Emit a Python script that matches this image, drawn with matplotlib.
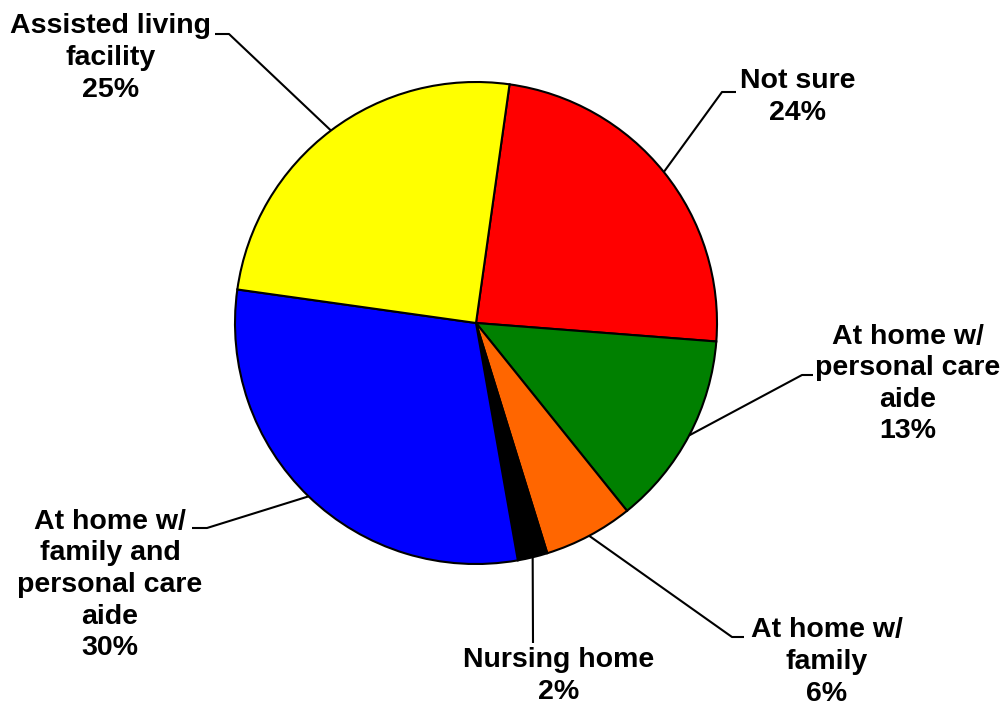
import numpy as np
import matplotlib
matplotlib.use("Agg")
import matplotlib.pyplot as plt

categories = ["Not sure", "At home w/\npersonal care\naide", "At home w/\nfamily",
              "Nursing home", "At home w/\nfamily and\npersonal care\naide",
              "Assisted living\nfacility"]
values = [24, 13, 6, 2, 30, 25]
colors = ["#FF0000", "#008000", "#FF6600", "#000000", "#0000FF", "#FFFF00"]

W, H = 1006, 707
fig = plt.figure(figsize=(W / 100, H / 100), dpi=100)
ax = fig.add_axes([0, 0, 1, 1])

def py(y):
    return H - y

cx, cy, R = 476, py(323), 241
wedges, _ = ax.pie(values, colors=colors, startangle=82, counterclock=False,
                   center=(cx, cy), radius=R, frame=True,
                   wedgeprops=dict(edgecolor="black", linewidth=1.5))
ax.set_xlim(0, W)
ax.set_ylim(0, H)
ax.set_aspect("equal")
ax.axis("off")

# label layout: (elbow point, horizontal end, text centre) in pixel coords
layout = [
    ((722, 92), (736, 92), (798, 97)),
    ((802, 375), (813, 375), (908, 384)),
    ((732, 637), (744, 637), (827, 662)),
    ((533, 643), None, (559, 676)),
    ((207, 528), (192, 528), (110, 585)),
    ((229, 34), (215, 34), (111, 58)),
]

for w, cat, v, (elb, hend, tpos) in zip(wedges, categories, values, layout):
    mid = np.deg2rad((w.theta1 + w.theta2) / 2)
    ax_ = cx + R * np.cos(mid)
    ay_ = cy + R * np.sin(mid)
    xs = [ax_, elb[0]]
    ys = [ay_, py(elb[1])]
    if hend is not None:
        xs.append(hend[0])
        ys.append(py(hend[1]))
    ax.plot(xs, ys, color="black", lw=1.5, solid_capstyle="butt")
    ax.text(tpos[0], py(tpos[1]), f"{cat}\n{v}%", ha="center", va="center",
            fontsize=20.5, fontweight="bold", family="Liberation Sans",
            linespacing=1.28)

fig.savefig("out.png", dpi=100)
